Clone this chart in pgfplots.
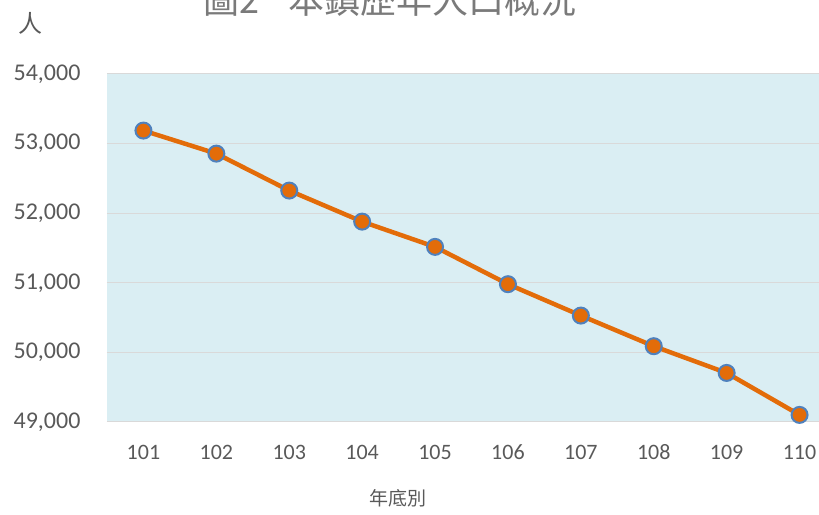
\documentclass[border=0pt]{standalone}
\usepackage{fontspec}
\setmainfont{Carlito}
\newfontfamily\cjk{Noto Sans CJK TC}
\usepackage{pgfplots}
\pgfplotsset{compat=1.18}
\definecolor{bgc}{HTML}{DAEEF3}
\definecolor{gridc}{HTML}{D9D9D9}
\definecolor{linec}{HTML}{E36C09}
\definecolor{markc}{HTML}{4F81BD}
\definecolor{txt}{HTML}{595959}
\begin{document}
\begin{tikzpicture}
\begin{axis}[
  at={(107pt,92pt)}, anchor=south west,
  width=729pt, height=348pt, scale only axis,
  xmin=100.5, xmax=110.5, ymin=49000, ymax=54000,
  xtick={101,...,110},
  ytick={49000,50000,...,54000},
  scaled ticks=false,
  ymajorgrids, grid style={gridc, line width=1pt},
  axis line style={draw=none},
  major tick length=0pt,
  axis background/.style={fill=bgc},
  yticklabel={\pgfmathprintnumber[fixed,precision=0,1000 sep={,},assume math mode=true]{\tick}},
  xticklabel={\pgfmathprintnumber[fixed,precision=0,1000 sep={},assume math mode=true]{\tick}},
  yticklabel style={font=\fontsize{24}{26}\selectfont, text=txt, anchor=east, xshift=-23pt},
  xticklabel style={font=\fontsize{22}{24}\selectfont, text=txt, anchor=north, text height=0.63em, text depth=0pt, yshift=-28pt},
  clip=false,
]
\addplot[linec, line width=4.5pt, mark=*, mark size=8pt,
  mark options={fill=linec, draw=markc, line width=2pt}]
coordinates {
(101,53187) (102,52856) (103,52325) (104,51879) (105,51516)
(106,50980) (107,50529) (108,50089) (109,49705) (110,49102)
};
\end{axis}
\node[anchor=center, text=txt, font=\cjk\fontsize{24}{26}\selectfont] at (31pt,491pt) {人};
\node[anchor=center, text=txt, font=\cjk\fontsize{19}{21}\selectfont] at (398pt,16pt) {年底別};
\node[anchor=base, text=txt!80, font=\cjk\fontsize{36}{38}\selectfont] at (390pt,500pt) {圖2\hspace{0.8em}本鎮歷年人口概況};
\pgfresetboundingbox
\useasboundingbox (0,0) rectangle (819pt,514pt);
\end{tikzpicture}
\end{document}
